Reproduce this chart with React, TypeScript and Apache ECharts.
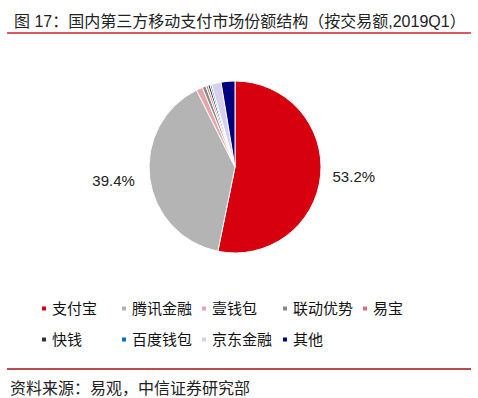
import React, { useEffect, useRef } from "react";
import * as echarts from "echarts";

const categories = ["支付宝", "腾讯金融", "壹钱包", "联动优势", "易宝", "快钱", "百度钱包", "京东金融", "其他"];
const shares = [53.2, 39.4, 1.2, 0.7, 0.4, 0.4, 0.3, 1.8, 2.6];
const colors = ["#d7000f", "#b4b4b4", "#e8a4ac", "#8a8a8a", "#d9707f", "#333333", "#0070c0", "#d4d0ee", "#00007f"];
const shownLabels = ["支付宝", "腾讯金融"];
const labelDistances = [7, 15, 10, 10, 10, 10, 10, 10, 10];

const legendColumnsX = [40, 120, 200, 281, 361];
const legendRowsY = [303, 334];
const legendPerRow = 5;

const titleText = "图 17：国内第三方移动支付市场份额结构（按交易额,2019Q1）";
const sourceText = "资料来源：易观，中信证券研究部";

export default function App() {
  const ref = useRef<HTMLDivElement>(null);
  useEffect(() => {
    if (!ref.current) return;
    const chart = echarts.init(ref.current, undefined, { renderer: "svg" });
    const font = "'Liberation Sans', 'Noto Sans CJK SC', sans-serif";
    const legends = categories.map((c, i) => ({
      orient: "horizontal" as const,
      icon: "rect",
      itemWidth: 6,
      itemHeight: 6,
      itemGap: 5,
      padding: 0,
      left: legendColumnsX[i % legendPerRow],
      top: legendRowsY[Math.floor(i / legendPerRow)] - 2,
      data: [c],
      textStyle: { fontSize: 15, color: "#111", fontFamily: font },
    }));
    chart.setOption({
      animation: false,
      backgroundColor: "#ffffff",
      textStyle: { fontFamily: font },
      title: {
        text: titleText,
        left: 9,
        top: 8,
        textStyle: { fontSize: 16, fontWeight: "normal", color: "#222", fontFamily: font },
      },
      graphic: [
        { type: "line", shape: { x1: 7, y1: 33, x2: 471, y2: 33 }, style: { stroke: "#d0202a", lineWidth: 1.5 } },
        { type: "line", shape: { x1: 7, y1: 369, x2: 471, y2: 369 }, style: { stroke: "#a01010", lineWidth: 1.5 } },
        {
          type: "text",
          left: 10,
          top: 380,
          style: { text: sourceText, fontSize: 16, fill: "#222", fontFamily: font },
        },
      ],
      legend: legends,
      series: [
        {
          type: "pie",
          center: [235, 167],
          radius: [0, 86],
          startAngle: 90,
          clockwise: true,
          itemStyle: { borderColor: "#ffffff", borderWidth: 1 },
          labelLine: { show: false, length: 10, length2: 0 },
          label: {
            show: true,
            position: "outside",
            fontSize: 15,
            color: "#222",
            fontFamily: font,
            formatter: (p: any) => (shownLabels.includes(p.name) ? p.value.toFixed(1) + "%" : ""),
          },
          data: categories.map((c, i) => ({
            name: c,
            value: shares[i],
            itemStyle: { color: colors[i] },
            labelLine: { show: false, length: labelDistances[i], length2: 0 },
          })),
        },
      ],
    });
    return () => chart.dispose();
  }, []);
  return <div ref={ref} style={{ position: "absolute", left: 0, top: 0, width: 478, height: 398 }} />;
}
